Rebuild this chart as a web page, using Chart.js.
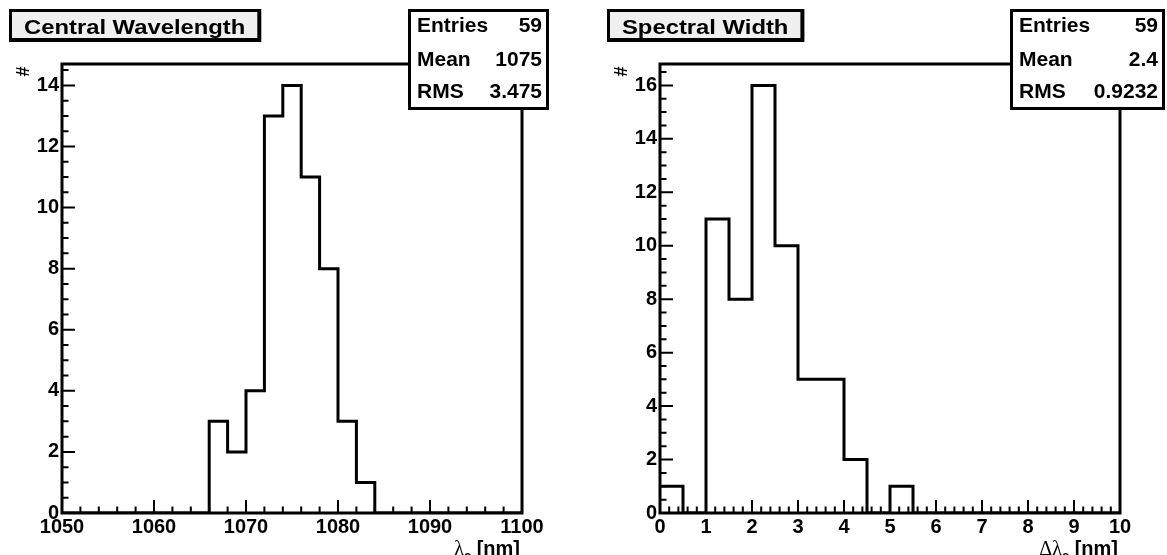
<!DOCTYPE html>
<html>
<head>
<meta charset="utf-8">
<script src="https://cdn.jsdelivr.net/npm/chart.js@4.4.1/dist/chart.umd.min.js"></script>
<style>
  html, body { margin: 0; padding: 0; background: #fff; overflow: hidden; }
  #wrap { position: relative; width: 1167px; height: 555px; }
  #cLeft { position: absolute; left: 0; top: 0; }
  #cRight { position: absolute; left: 598px; top: 0; }
</style>
</head>
<body>
<div id="wrap">
  <canvas id="cLeft" width="598" height="555"></canvas>
  <canvas id="cRight" width="569" height="555"></canvas>
</div>
<script>
// ---- data ----------------------------------------------------------------
const statLabels = ['Entries', 'Mean', 'RMS'];

// Central wavelength histogram (2 nm bins, 1050-1100 nm)
const cwTitle = 'Central Wavelength';
const cwBinEdges = [1050, 1052, 1054, 1056, 1058, 1060, 1062, 1064, 1066, 1068,
                    1070, 1072, 1074, 1076, 1078, 1080, 1082, 1084, 1086, 1088,
                    1090, 1092, 1094, 1096, 1098, 1100];
const cwCounts   = [0, 0, 0, 0, 0, 0, 0, 0, 3, 2,
                    4, 13, 14, 11, 8, 3, 1, 0, 0, 0,
                    0, 0, 0, 0, 0];
const cwStats    = ['59', '1075', '3.475'];
const cwXTicks   = [1050, 1060, 1070, 1080, 1090, 1100];
const cwYTicks   = [0, 2, 4, 6, 8, 10, 12, 14];

// Spectral width histogram (0.5 nm bins, 0-10 nm)
const swTitle = 'Spectral Width';
const swBinEdges = [0, 0.5, 1, 1.5, 2, 2.5, 3, 3.5, 4, 4.5, 5,
                    5.5, 6, 6.5, 7, 7.5, 8, 8.5, 9, 9.5, 10];
const swCounts   = [1, 0, 11, 8, 16, 10, 5, 5, 2, 0,
                    1, 0, 0, 0, 0, 0, 0, 0, 0, 0];
const swStats    = ['59', '2.4', '0.9232'];
const swXTicks   = [0, 1, 2, 3, 4, 5, 6, 7, 8, 9, 10];
const swYTicks   = [0, 2, 4, 6, 8, 10, 12, 14, 16];

// ---- drawing ---------------------------------------------------------------
const SANS = '"Liberation Sans", Arial, Helvetica, sans-serif';
const SERIF = '"Liberation Serif", "Times New Roman", serif';
const tickFont = { family: SANS, size: 20, weight: 'bold' };
const TITLE_STRETCH = 1.19;   // title text is set wide in its box

// outline of a histogram: one point per bin low edge, closed at the last edge
function histPoints(edges, counts) {
  const pts = counts.map((c, i) => ({ x: edges[i], y: c }));
  pts.push({ x: edges[edges.length - 1], y: counts[counts.length - 1] });
  return pts;
}

function drawTicks(ctx, scale, area, axis, major, minor) {
  const lo = scale.min, hi = scale.max;
  ctx.save();
  ctx.strokeStyle = '#000';
  ctx.lineWidth = 2;
  ctx.beginPath();
  for (let k = 0; ; k++) {
    const v = lo + k * minor;
    if (v > hi + 1e-9) break;
    const r = (v - lo) / major;
    const len = Math.abs(r - Math.round(r)) < 1e-6 ? 13 : 6.5;
    const p = scale.getPixelForValue(v);
    if (axis === 'x') {
      ctx.moveTo(p, area.bottom);
      ctx.lineTo(p, area.bottom - len);
    } else {
      ctx.moveTo(area.left, p);
      ctx.lineTo(area.left + len, p);
    }
  }
  ctx.stroke();
  ctx.restore();
}

function drawRich(ctx, parts, rightX, baseY) {
  let total = 0;
  parts.forEach(p => { ctx.font = p.font; p.w = ctx.measureText(p.t).width; total += p.w; });
  let x = rightX - total;
  ctx.textAlign = 'left';
  ctx.textBaseline = 'alphabetic';
  parts.forEach(p => {
    ctx.font = p.font;
    ctx.fillText(p.t, x, baseY + (p.dy || 0));
    x += p.w;
  });
}

function padDecor(cfg) {
  return {
    id: 'padDecor',
    afterDatasetsDraw(chart) {
      const ctx = chart.ctx, a = chart.chartArea;
      drawTicks(ctx, chart.scales.x, a, 'x', cfg.xMajor, cfg.xMinor);
      drawTicks(ctx, chart.scales.y, a, 'y', cfg.yMajor, cfg.yMinor);
      ctx.save();
      ctx.strokeStyle = '#000';
      ctx.lineWidth = 3;
      ctx.strokeRect(a.left, a.top, a.right - a.left, a.bottom - a.top);
      ctx.restore();
    },
    afterDraw(chart) {
      const ctx = chart.ctx, a = chart.chartArea;
      ctx.save();
      ctx.fillStyle = '#000';

      // title box with drop shadow
      ctx.font = 'bold 20px ' + SANS;
      const tw = ctx.measureText(cfg.title).width * TITLE_STRETCH;
      const bx0 = 9, by0 = 9, bx1 = bx0 + tw + 31, by1 = 42;
      ctx.fillStyle = '#000';
      ctx.fillRect(bx0, by0, bx1 - bx0, by1 - by0);
      ctx.fillStyle = '#f0f0f0';
      ctx.fillRect(bx0 + 3, by0 + 3, bx1 - bx0 - 7, by1 - by0 - 7);
      ctx.fillStyle = '#000';
      ctx.textAlign = 'center';
      ctx.textBaseline = 'alphabetic';
      ctx.save();
      ctx.translate((bx0 + 3 + bx1 - 4) / 2, 34);
      ctx.scale(TITLE_STRETCH, 1);
      ctx.fillText(cfg.title, 0, 0);
      ctx.restore();

      // statistics box
      const s = cfg.statBox;
      ctx.fillStyle = '#fff';
      ctx.fillRect(s.x0, s.y0, s.x1 - s.x0, s.y1 - s.y0);
      ctx.strokeStyle = '#000';
      ctx.lineWidth = 3;
      ctx.strokeRect(s.x0 + 1.5, s.y0 + 1.5, s.x1 - s.x0 - 3, s.y1 - s.y0 - 3);
      ctx.fillStyle = '#000';
      ctx.font = 'bold 21px ' + SANS;
      const rows = [32, 66, 98];
      statLabels.forEach((lab, i) => {
        ctx.textAlign = 'left';
        ctx.fillText(lab, s.x0 + 9, rows[i]);
        ctx.textAlign = 'right';
        ctx.fillText(cfg.stats[i], s.x1 - 7, rows[i]);
      });

      // y axis title, rotated, at the top of the axis
      ctx.save();
      ctx.translate(24.5, 71.5);
      ctx.rotate(-Math.PI / 2);
      ctx.font = 'bold 18px ' + SANS;
      ctx.textAlign = 'center';
      ctx.textBaseline = 'middle';
      ctx.fillText('#', 0, 0);
      ctx.restore();

      // x axis title, right aligned under the axis
      drawRich(ctx, cfg.xTitle, a.right - 2, 555);
      ctx.restore();
    }
  };
}

function makeChart(id, cfg) {
  return new Chart(document.getElementById(id), {
    type: 'line',
    data: {
      datasets: [{
        data: histPoints(cfg.edges, cfg.counts),
        stepped: 'before',
        borderColor: '#000',
        borderWidth: 3,
        pointRadius: 0,
        fill: false,
        borderJoinStyle: 'miter',
        borderCapStyle: 'butt'
      }]
    },
    options: {
      responsive: false,
      animation: false,
      events: [],
      layout: { padding: { left: 22, top: 64, right: cfg.padRight, bottom: 12 } },
      plugins: { legend: { display: false }, tooltip: { enabled: false }, title: { display: false } },
      scales: {
        x: {
          type: 'linear', min: cfg.xMin, max: cfg.xMax,
          grid: { display: false, drawTicks: false },
          border: { display: false },
          afterBuildTicks: sc => { sc.ticks = cfg.xTicks.map(v => ({ value: v })); },
          afterFit: sc => { sc.height = 30; },
          ticks: { font: tickFont, color: '#000', padding: 2, maxRotation: 0, minRotation: 0,
                   autoSkip: false, callback: v => String(v) }
        },
        y: {
          type: 'linear', min: 0, max: cfg.yMax,
          grid: { display: false, drawTicks: false },
          border: { display: false },
          afterBuildTicks: sc => { sc.ticks = cfg.yTicks.map(v => ({ value: v })); },
          afterFit: sc => { sc.width = 40; },
          ticks: { font: tickFont, color: '#000', padding: 3, autoSkip: false, callback: v => String(v) }
        }
      }
    },
    plugins: [padDecor(cfg)]
  });
}

makeChart('cLeft', {
  title: cwTitle, stats: cwStats,
  edges: cwBinEdges, counts: cwCounts,
  xMin: 1050, xMax: 1100, xTicks: cwXTicks, xMajor: 10, xMinor: 2,
  yMax: 14.7, yTicks: cwYTicks, yMajor: 2, yMinor: 0.5,
  padRight: 76,
  statBox: { x0: 408, y0: 9, x1: 549, y1: 110 },
  xTitle: [
    { t: '\u03bb', font: '20px ' + SERIF },
    { t: 'c', font: 'bold 13px ' + SANS, dy: 5 },
    { t: ' [nm]', font: 'bold 20px ' + SANS }
  ]
});

makeChart('cRight', {
  title: swTitle, stats: swStats,
  edges: swBinEdges, counts: swCounts,
  xMin: 0, xMax: 10, xTicks: swXTicks, xMajor: 1, xMinor: 0.2,
  yMax: 16.8, yTicks: swYTicks, yMajor: 2, yMinor: 0.5,
  padRight: 47,
  statBox: { x0: 412, y0: 9, x1: 567, y1: 110 },
  xTitle: [
    { t: '\u0394\u03bb', font: '20px ' + SERIF },
    { t: 'c', font: 'bold 13px ' + SANS, dy: 5 },
    { t: ' [nm]', font: 'bold 20px ' + SANS }
  ]
});
</script>
</body>
</html>
